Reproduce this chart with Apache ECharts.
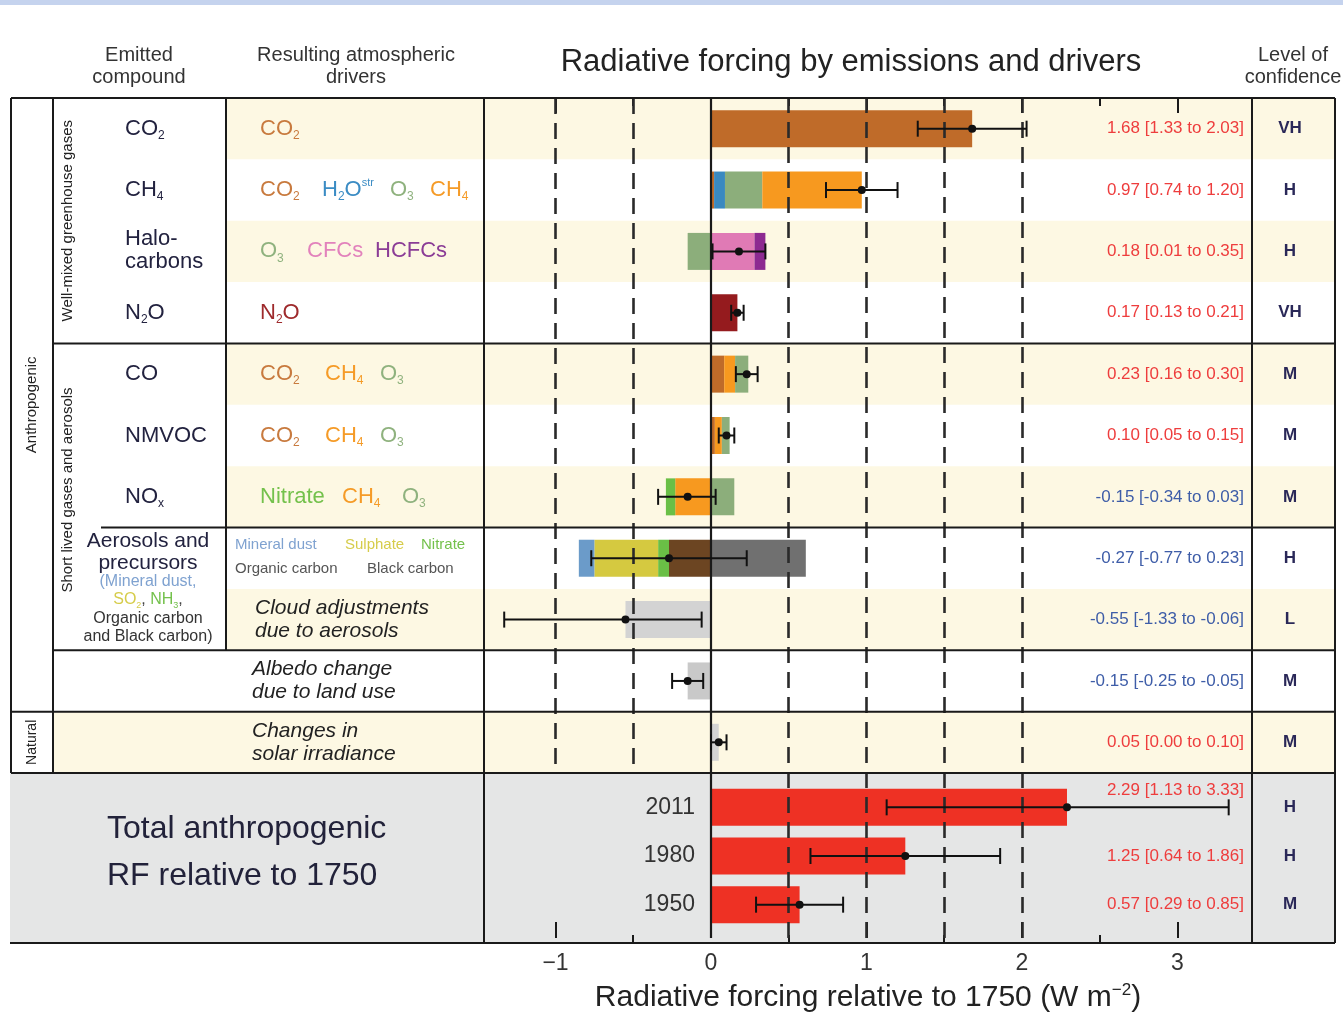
<!DOCTYPE html>
<html><head><meta charset="utf-8">
<script src="https://cdn.jsdelivr.net/npm/echarts@6/dist/echarts.min.js"></script>
<style>html,body{margin:0;padding:0;background:#fff}#c{width:1343px;height:1019px}</style>
</head><body><div id="c"></div>
<script>
// ---------------- DATA ----------------
const rows = ['CO2','CH4','Halocarbons','N2O','CO','NMVOC','NOx','Aerosols','Cloud','Albedo','Solar'];
const co2Part      = [1.68, 0.02, null, null, 0.085, 0.025, null, null, null, null, null];
const h2oPart      = [null, 0.07, null, null, null, null, null, null, null, null, null];
const o3PartA      = [null, 0.24, -0.15, null, null, null, null, null, null, null, null];
const ch4Part      = [null, 0.64, null, null, 0.07, 0.045, -0.23, null, null, null, null];
const o3PartB      = [null, null, null, null, 0.085, 0.05, 0.15, null, null, null, null];
const cfcPart      = [null, null, 0.28, null, null, null, null, null, null, null, null];
const hcfcPart     = [null, null, 0.07, null, null, null, null, null, null, null, null];
const n2oPart      = [null, null, null, 0.17, null, null, null, null, null, null, null];
const ocPart       = [null, null, null, null, null, null, null, -0.27, null, null, null];
const nitratePart  = [null, null, null, null, null, null, -0.06, -0.07, null, null, null];
const sulphatePart = [null, null, null, null, null, null, null, -0.41, null, null, null];
const dustPart     = [null, null, null, null, null, null, null, -0.10, null, null, null];
const bcPart       = [null, null, null, null, null, null, null, 0.61, null, null, null];
const otherPart    = [null, null, null, null, null, null, null, null, -0.55, -0.15, 0.05];
const best = [1.68, 0.97, 0.18, 0.17, 0.23, 0.10, -0.15, -0.27, -0.55, -0.15, 0.05];
const low  = [1.33, 0.74, 0.01, 0.13, 0.16, 0.05, -0.34, -0.77, -1.33, -0.25, 0.00];
const high = [2.03, 1.20, 0.35, 0.21, 0.30, 0.15, 0.03, 0.23, -0.06, -0.05, 0.10];
const confidence = ['VH','H','H','VH','M','M','M','H','L','M','M'];
const years = ['2011','1980','1950'];
const totalBest = [2.29, 1.25, 0.57];
const totalLow  = [1.13, 0.64, 0.29];
const totalHigh = [3.33, 1.86, 0.85];
const totalConf = ['H','H','M'];
const majorTicks = [-1, 0, 1, 2, 3];
const minorTicks = [-0.5, 0.5, 1.5, 2.5];
const dashedNeg = [-1, -0.5];
const dashedPos = [0.5, 1, 1.5, 2];

// ---------------- LAYOUT / STYLE ----------------
const FONT = '"Liberation Sans", Arial, sans-serif';
const XMIN = -1.46, XMAX = 3.48;
const L = 484, R = 1252, TOP = 98, MID = 773, BOT = 943, TBL_R = 1335;
const step = (MID - TOP) / rows.length;
const rowTop = i => TOP + step * i;
const rowC = i => TOP + step * (i + 0.5);
const zeroOffset = (0 - XMIN) / (XMAX - XMIN) * (R - L);
const YEL = '#fdf8e3', GRAYBG = '#e5e6e6', LINE = '#1a1a1a';
const RED = '#ee3d3d', BLUE = '#3e5da8', INK = '#22223f';
const C = {co2:'#c87a3e', h2o:'#3b8cc4', o3:'#8fb27e', ch4:'#f59b27', cfc:'#e282bc', hcfc:'#8b3d96',
           n2o:'#9e2a2c', nit:'#74c14c', sul:'#d6cc4a', dust:'#7fa2d0', dark:'#444'};
const DASH = {type:[16,9], width:2.6, color:'#2a2a2a'};

function fmt(v){ return v.toFixed(2); }

function makeErr(confArr) {
  return function (params, api) {
    const idx = api.value(0);
    const lo = api.value(1), hi = api.value(2), b = api.value(3);
    const pL = api.coord([lo, idx]), pH = api.coord([hi, idx]), pB = api.coord([b, idx]);
    const y = pB[1];
    const cs = params.coordSys;
    const textRight = cs.x + cs.width - 8;
    const shift = pH[0] > textRight - 160 ? -17 : 0;
    const ls = {stroke:'#111', lineWidth:2};
    return {type:'group', children:[
      {type:'line', shape:{x1:pL[0], y1:y, x2:pH[0], y2:y}, style:ls},
      {type:'line', shape:{x1:pL[0], y1:y-8, x2:pL[0], y2:y+8}, style:ls},
      {type:'line', shape:{x1:pH[0], y1:y-8, x2:pH[0], y2:y+8}, style:ls},
      {type:'circle', shape:{cx:pB[0], cy:y, r:4}, style:{fill:'#111'}},
      {type:'text', style:{text: fmt(b)+' ['+fmt(lo)+' to '+fmt(hi)+']', x:textRight, y:y+shift,
        align:'right', verticalAlign:'middle', fill: b >= 0 ? RED : BLUE, fontSize:17, fontFamily:FONT}},
      {type:'text', style:{text: confArr[params.dataIndex], x: cs.x + cs.width + 38, y:y,
        align:'center', verticalAlign:'middle', fill:'#2a2858', fontSize:17, fontWeight:'bold', fontFamily:FONT}}
    ]};
  };
}

// ---------------- GRAPHIC (table) ----------------
const G = [];
function rect(x, y, w, h, fill) { G.push({type:'rect', z:0, silent:true, shape:{x, y, width:w, height:h}, style:{fill}}); }
function line(x1, y1, x2, y2) { G.push({type:'line', z:30, silent:true, shape:{x1, y1, x2, y2}, style:{stroke:LINE, lineWidth:2}}); }
function txt(x, y, text, o) {
  G.push(Object.assign({type:'text', z:40, silent:true, x, y, style:Object.assign({text, x:0, y:0, fontFamily:FONT,
    fontSize:22, fill:INK, align:'left', verticalAlign:'middle'}, (o && o.style) || {})}, (o && o.el) || {}));
}
function chem(x, y, parts, color, size, align) {
  size = size || 22;
  const text = parts.map(p => '{' + (p[1] || 'b') + '|' + p[0] + '}').join('');
  G.push({type:'text', z:40, silent:true, x, y, style:{text, x:0, y:0, align: align || 'left', verticalAlign:'middle',
    rich:{
      b:{fontSize:size, fontFamily:FONT, fill:color, lineHeight:size+4},
      s:{fontSize:Math.round(size*0.55), fontFamily:FONT, fill:color, lineHeight:9, verticalAlign:'bottom'},
      p:{fontSize:Math.round(size*0.5), fontFamily:FONT, fill:color, lineHeight:9, verticalAlign:'top'},
      d:{fontSize:size, fontFamily:FONT, fill:INK, lineHeight:size+4}
    }}});
}

// backgrounds
rect(0, 0, 1343, 5, '#c5d3ee');
rows.forEach((r, i) => {
  if (i % 2 === 0) {
    const x0 = i === rows.length - 1 ? 53 : 226;
    rect(x0, rowTop(i), TBL_R - x0, step, YEL);
  }
});
rect(10, MID, TBL_R - 10, BOT - MID, GRAYBG);

// borders
line(11, TOP, TBL_R, TOP);
line(53, rowTop(4), TBL_R, rowTop(4));
line(101, rowTop(7), TBL_R, rowTop(7));
line(53, rowTop(9), TBL_R, rowTop(9));
line(11, rowTop(10), TBL_R, rowTop(10));
line(11, MID, TBL_R, MID);
line(10, BOT, TBL_R, BOT);
line(11, TOP, 11, MID);
line(53, TOP, 53, MID);
line(226, TOP, 226, rowTop(9));
line(L, TOP, L, BOT);
line(R, TOP, R, BOT);
line(TBL_R, TOP, TBL_R, BOT);

// headers
txt(139, 66, 'Emitted\ncompound', {style:{align:'center', fontSize:20, lineHeight:22, fill:'#333'}});
txt(356, 66, 'Resulting atmospheric\ndrivers', {style:{align:'center', fontSize:20, lineHeight:22, fill:'#333'}});
txt(851, 62, 'Radiative forcing by emissions and drivers', {style:{align:'center', fontSize:31, fill:'#222'}});
txt(1293, 66, 'Level of\nconfidence', {style:{align:'center', fontSize:20, lineHeight:22, fill:'#333'}});

// vertical group labels
const rot = Math.PI / 2;
txt(68, (rowTop(0) + rowTop(4)) / 2, 'Well-mixed greenhouse gases', {style:{align:'center', fontSize:15, fill:'#222'}, el:{rotation:rot}});
txt(68, 490, 'Short lived gases and aerosols', {style:{align:'center', fontSize:15, fill:'#222'}, el:{rotation:rot}});
txt(32, (rowTop(0) + rowTop(10)) / 2, 'Anthropogenic', {style:{align:'center', fontSize:15, fill:'#222'}, el:{rotation:rot}});
txt(32, rowC(10), 'Natural', {style:{align:'center', fontSize:14, fill:'#222'}, el:{rotation:rot}});

// emitted compounds
chem(125, rowC(0), [['CO'],['2','s']], INK);
chem(125, rowC(1), [['CH'],['4','s']], INK);
txt(125, rowC(2) - 12, 'Halo-');
txt(125, rowC(2) + 11, 'carbons');
chem(125, rowC(3), [['N'],['2','s'],['O']], INK);
txt(125, rowC(4), 'CO');
txt(125, rowC(5), 'NMVOC');
chem(125, rowC(6), [['NO'],['x','s']], INK);
txt(148, 541, 'Aerosols and', {style:{align:'center', fontSize:21}});
txt(148, 563, 'precursors', {style:{align:'center', fontSize:21}});
txt(148, 582, '(Mineral dust,', {style:{align:'center', fontSize:16, fill:C.dust}});
chem(148, 600, [['SO'],['2','s'],[', ','d'],['NH','n'],['3','m'],[',','d']], C.sul, 16, 'center');
G[G.length-1].style.rich.n = {fontSize:16, fontFamily:FONT, fill:C.nit, lineHeight:20};
G[G.length-1].style.rich.m = {fontSize:9, fontFamily:FONT, fill:C.nit, lineHeight:9, verticalAlign:'bottom'};
G[G.length-1].style.rich.d = {fontSize:16, fontFamily:FONT, fill:'#444', lineHeight:20};
txt(148, 619, 'Organic carbon', {style:{align:'center', fontSize:16, fill:'#333'}});
txt(148, 637, 'and Black carbon)', {style:{align:'center', fontSize:16, fill:'#333'}});

// resulting drivers
chem(260, rowC(0), [['CO'],['2','s']], C.co2);
chem(260, rowC(1), [['CO'],['2','s']], C.co2);
chem(322, rowC(1), [['H'],['2','s'],['O'],['str','p']], C.h2o);
chem(390, rowC(1), [['O'],['3','s']], C.o3);
chem(430, rowC(1), [['CH'],['4','s']], C.ch4);
chem(260, rowC(2), [['O'],['3','s']], C.o3);
txt(307, rowC(2), 'CFCs', {style:{fill:C.cfc}});
txt(375, rowC(2), 'HCFCs', {style:{fill:C.hcfc}});
chem(260, rowC(3), [['N'],['2','s'],['O']], C.n2o);
[4, 5].forEach(i => {
  chem(260, rowC(i), [['CO'],['2','s']], C.co2);
  chem(325, rowC(i), [['CH'],['4','s']], C.ch4);
  chem(380, rowC(i), [['O'],['3','s']], C.o3);
});
txt(260, rowC(6), 'Nitrate', {style:{fill:C.nit}});
chem(342, rowC(6), [['CH'],['4','s']], C.ch4);
chem(402, rowC(6), [['O'],['3','s']], C.o3);
txt(235, rowC(7) - 13, 'Mineral dust', {style:{fontSize:15, fill:C.dust}});
txt(345, rowC(7) - 13, 'Sulphate', {style:{fontSize:15, fill:C.sul}});
txt(421, rowC(7) - 13, 'Nitrate', {style:{fontSize:15, fill:C.nit}});
txt(235, rowC(7) + 11, 'Organic carbon', {style:{fontSize:15, fill:'#555'}});
txt(367, rowC(7) + 11, 'Black carbon', {style:{fontSize:15, fill:'#555'}});
txt(255, rowC(8) - 11.5, 'Cloud adjustments', {style:{fontSize:21, fontStyle:'italic', fill:'#222'}});
txt(255, rowC(8) + 11.5, 'due to aerosols', {style:{fontSize:21, fontStyle:'italic', fill:'#222'}});
txt(252, rowC(9) - 11.5, 'Albedo change', {style:{fontSize:21, fontStyle:'italic', fill:'#222'}});
txt(252, rowC(9) + 11.5, 'due to land use', {style:{fontSize:21, fontStyle:'italic', fill:'#222'}});
txt(252, rowC(10) - 11.5, 'Changes in', {style:{fontSize:21, fontStyle:'italic', fill:'#222'}});
txt(252, rowC(10) + 11.5, 'solar irradiance', {style:{fontSize:21, fontStyle:'italic', fill:'#222'}});

// totals title
txt(107, 829, 'Total anthropogenic', {style:{fontSize:32, fill:'#22223a'}});
txt(107, 876, 'RF relative to 1750', {style:{fontSize:32, fill:'#22223a'}});

// ---------------- SERIES ----------------
const otherColors = {8:'#d3d3d3', 9:'#c9c9c9', 10:'#d3d3d3'};
const comps = [
  ['CO2', co2Part, '#bf6b29'], ['H2O (strat)', h2oPart, '#3a89c0'], ['O3', o3PartA, '#8cae7b'],
  ['CH4', ch4Part, '#f7991f'], ['O3 ', o3PartB, '#8cae7b'], ['CFCs', cfcPart, '#e07ab5'],
  ['HCFCs', hcfcPart, '#8d2a91'], ['N2O', n2oPart, '#951b1e'], ['Organic carbon', ocPart, '#6c4522'],
  ['Nitrate', nitratePart, '#6abf46'], ['Sulphate', sulphatePart, '#d5c940'], ['Mineral dust', dustPart, '#6b9bc9'],
  ['Black carbon', bcPart, '#707070'], ['Adjustments', otherPart, p => otherColors[p.dataIndex] || '#ccc']
];
const series = comps.map(c => ({
  name: c[0], type:'bar', stack:'rf', xAxisIndex:0, yAxisIndex:0, barWidth:37, z:3,
  data: c[1], itemStyle:{color: c[2]}, silent:true
}));
series.push({
  type:'custom', xAxisIndex:0, yAxisIndex:0, z:5, silent:true,
  data: rows.map((r, i) => [i, low[i], high[i], best[i]]),
  encode:{x:[1,2,3], y:0}, renderItem: makeErr(confidence)
});
series.push({
  name:'Total', type:'bar', xAxisIndex:1, yAxisIndex:1, barWidth:37, z:3, silent:true,
  data: totalBest, itemStyle:{color:'#ee3124'}
});
series.push({
  type:'custom', xAxisIndex:1, yAxisIndex:1, z:5, silent:true,
  data: years.map((y, i) => [i, totalLow[i], totalHigh[i], totalBest[i]]),
  encode:{x:[1,2,3], y:0}, renderItem: makeErr(totalConf)
});
// dashed guides: negative ones only across the driver rows, positive ones through the totals too
series.push({
  type:'line', xAxisIndex:0, yAxisIndex:0, z:1, data:[], silent:true,
  markLine:{silent:true, symbol:['none','none'], label:{show:false}, animation:false,
    lineStyle:DASH, data: dashedNeg.map(v => ({xAxis:v}))}
});
series.push({
  type:'line', xAxisIndex:2, yAxisIndex:2, z:1, data:[], silent:true,
  markLine:{silent:true, symbol:['none','none'], label:{show:false}, animation:false,
    lineStyle:DASH, data: dashedPos.map(v => ({xAxis:v}))}
});
series.push({
  type:'line', xAxisIndex:2, yAxisIndex:2, z:1, data:[], silent:true,
  markLine:{silent:true, symbol:['none','none'], label:{show:false}, animation:false,
    lineStyle:{type:'solid', width:2.2, color:'#1a1a1a'}, data:[{xAxis:0}]}
});

const hiddenX = gi => ({type:'value', gridIndex:gi, min:XMIN, max:XMAX, show:false, axisLine:{onZero:false}});
const tickX = (gi, pos, vals, len, labels) => ({
  type:'value', gridIndex:gi, min:XMIN, max:XMAX, position:pos,
  axisLine:{show:false, onZero:false}, splitLine:{show:false},
  axisTick:{show:true, inside:true, length:len, customValues:vals, lineStyle:{color:'#1a1a1a', width:2}},
  axisLabel: labels ? {show:true, customValues:majorTicks, fontSize:23, color:'#333', fontFamily:FONT, margin:14,
    formatter: v => (v < 0 ? '\u2212' + Math.abs(v) : String(v))} : {show:false},
  name: labels ? 'Radiative forcing relative to 1750 (W m{sup|\u22122})' : '',
  nameLocation:'middle', nameGap:44,
  nameTextStyle:{fontSize:30, color:'#222', fontFamily:FONT, lineHeight:32,
    rich:{sup:{fontSize:17, color:'#222', fontFamily:FONT, verticalAlign:'top', lineHeight:16}}}
});

const option = {
  animation:false,
  backgroundColor:'#ffffff',
  textStyle:{fontFamily:FONT},
  grid:[
    {left:L, top:TOP, width:R-L, height:MID-TOP},
    {left:L, top:783, width:R-L, height:146},
    {left:L, top:TOP, width:R-L, height:BOT-TOP},
    {left:L, top:TOP, width:R-L, height:BOT-TOP}
  ],
  xAxis:[
    hiddenX(0), hiddenX(1),
    tickX(2, 'bottom', majorTicks, 16, true), tickX(2, 'top', majorTicks, 15, false),
    tickX(3, 'bottom', minorTicks, 8, false), tickX(3, 'top', minorTicks, 8, false)
  ],
  yAxis:[
    {type:'category', gridIndex:0, data:rows, inverse:true, show:false},
    {type:'category', gridIndex:1, data:years, inverse:true, position:'left', offset:-zeroOffset,
      axisLine:{show:false, onZero:false}, axisTick:{show:false}, splitLine:{show:false},
      axisLabel:{fontSize:23, color:'#333', fontFamily:FONT, margin:16}},
    {type:'value', gridIndex:2, min:0, max:1, show:false},
    {type:'value', gridIndex:3, min:0, max:1, show:false}
  ],
  graphic:{elements:G},
  series
};
const chart = echarts.init(document.getElementById('c'));
chart.setOption(option);
</script>
</body></html>
